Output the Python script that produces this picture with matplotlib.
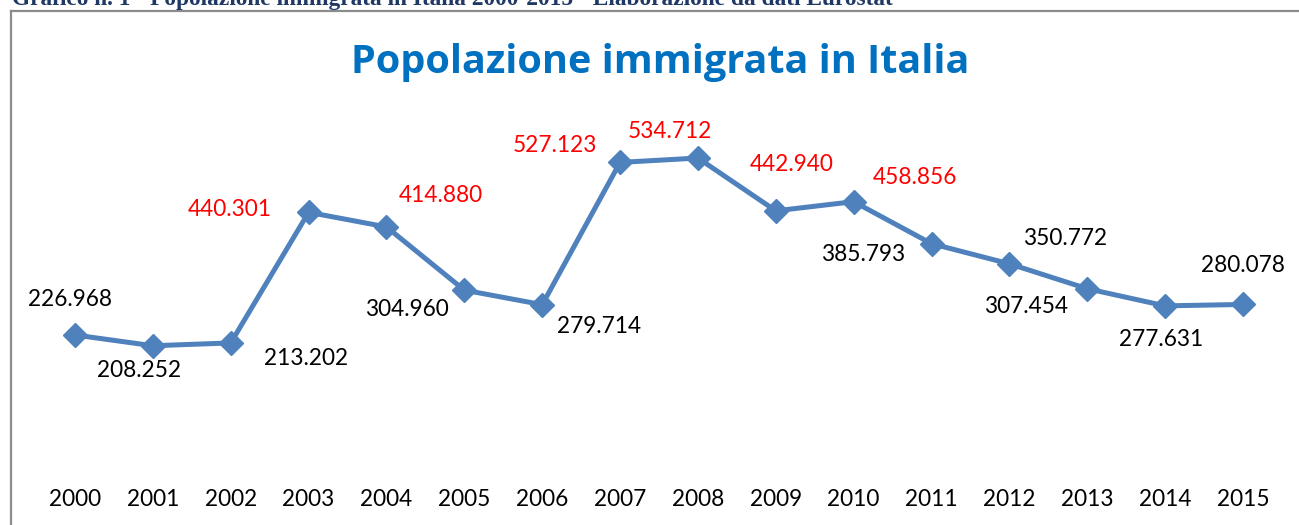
import matplotlib
matplotlib.use("Agg")
import matplotlib.pyplot as plt
from matplotlib.lines import Line2D

years = [2000, 2001, 2002, 2003, 2004, 2005, 2006, 2007,
         2008, 2009, 2010, 2011, 2012, 2013, 2014, 2015]
immigrati = [226968, 208252, 213202, 440301, 414880, 304960, 279714, 527123,
             534712, 442940, 458856, 385793, 350772, 307454, 277631, 280078]

title = "Popolazione immigrata in Italia"
caption = "Grafico n. 1 - Popolazione immigrata in Italia 2000-2015 - Elaborazione da dati Eurostat"

# label offsets (pixels, dx right, dy up) relative to each point
label_offsets_px = [(-5, 35), (-14, -25), (75, -16), (-79, 3), (54, 31), (-57, -19),
                    (57, -22), (-65, 17), (-28, 27), (16, 46), (61, 24), (-68, -11),
                    (56, 25), (-61, -18), (-4, -34), (0, 39)]

W, H = 1299, 525
fig = plt.figure(figsize=(W / 100, H / 100), dpi=100)
fig.patch.set_facecolor("white")

left = 36.1 / W
right = 1281.9 / W
bottom = (H - 465.5) / H
top = (H - 120.5) / H
ax = fig.add_axes([left, bottom, right - left, top - bottom])
ax.set_facecolor("none")

x = list(range(len(years)))
ax.plot(x, immigrati, color="#4F81BD", lw=3.6, marker="D", markersize=12,
        markerfacecolor="#4F81BD", markeredgecolor="#4F81BD", solid_joinstyle="miter")

ax.set_xlim(-0.5, len(years) - 0.5)
ax.set_ylim(0, 600000)
ax.set_yticks([])
ax.set_xticks(x)
ax.set_xticklabels([str(y) for y in years], fontfamily="Lato", fontsize=16.3)
ax.tick_params(axis="x", length=0, pad=17.0, colors="black")
for s in ax.spines.values():
    s.set_visible(False)

for xi, v, (dx, dy) in zip(x, immigrati, label_offsets_px):
    col = "#FF0000" if v > 400000 else "black"
    ax.annotate(f"{v:,}".replace(",", "."), (xi, v), xytext=(dx * 0.72, dy * 0.72),
                textcoords="offset points", ha="center", va="center",
                fontfamily="Lato", fontsize=16.3, color=col)

t = fig.text(660 / W, 1 - 72.5 / H, title, ha="center", va="baseline",
             fontfamily="Open Sans", fontweight="bold", fontsize=28, color="#0070C0")
c = fig.text(12 / W, 1 - 4.5 / H, caption, ha="left", va="baseline",
             fontfamily="Liberation Serif", fontweight="bold", fontsize=16, color="#1F3864")

# fit text widths to the reference
renderer = fig.canvas.get_renderer()
for txt, target in ((t, 616.0), (c, 883.0)):
    w = txt.get_window_extent(renderer).width
    txt.set_fontsize(txt.get_fontsize() * target / w)

fig.add_artist(Line2D([10.5 / W, 10.5 / W], [1 - 11 / H, -0.1], color="#8C8C8C", lw=1.6))
fig.add_artist(Line2D([10.5 / W, 1.1], [1 - 11 / H, 1 - 11 / H], color="#8C8C8C", lw=1.6))

fig.savefig("out.png", dpi=100)
